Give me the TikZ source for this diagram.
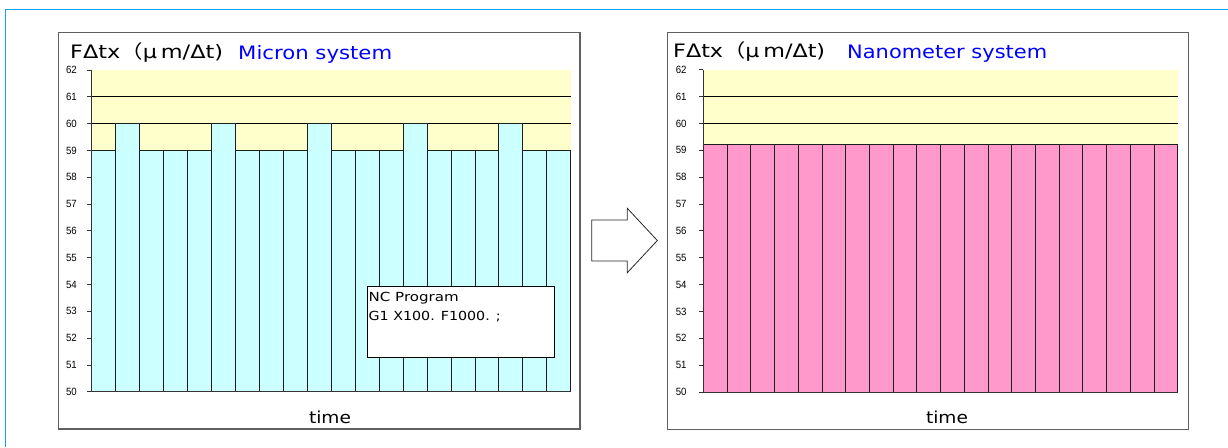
\documentclass[tikz,border=0pt]{standalone}
\usepackage{fontspec}
\usepackage{graphicx}
\setmainfont{DejaVu Sans}
\newfontfamily\labfont{Liberation Sans}
\newfontfamily\jpfont{Noto Sans CJK JP}

% set a text at its natural height, stretched horizontally to a given width (pt)
\newsavebox\fitbox
\newcommand\fitw[2]{\sbox\fitbox{#2}\pgfmathsetmacro\fitk{#1/\the\wd\fitbox}\scalebox{\fitk}[1]{\usebox\fitbox}}

\definecolor{frameblue}{RGB}{20,160,240}
\definecolor{boxgrey}{RGB}{96,96,96}
\definecolor{plotyellow}{RGB}{255,255,204}
\definecolor{barcyan}{RGB}{204,255,255}
\definecolor{barpink}{RGB}{255,153,204}
\definecolor{barline}{RGB}{30,30,30}
\definecolor{titleblue}{RGB}{0,0,255}

\tikzset{
  chartbox/.style={draw=boxgrey, line width=1.4pt, fill=white, inner sep=0pt, anchor=north west},
  gridline/.style={draw=black, line width=0.9pt},
  axisline/.style={draw=black!80, line width=0.9pt},
  bar/.style={draw=barline, line width=0.8pt},
  ticklab/.style={anchor=east, inner sep=0pt, font=\labfont\fontsize{10.5}{10.5}\selectfont},
  titletext/.style={anchor=base west, inner sep=0pt, font=\fontsize{18.5}{20}\selectfont},
  plaintext/.style={anchor=base west, inner sep=0pt},
  ncbox/.style={draw=black, line width=0.9pt, fill=white, inner sep=0pt, anchor=north west},
  arrowshape/.style={draw=black!85, line width=0.8pt, fill=white, line join=miter},
}

% background and grid of one plot (inside a scope in data units)
\newcommand\plotframe{%
  \fill[plotyellow] (0,0) rectangle (20,12);
  \foreach \k in {1,...,11} \draw[gridline] (0,\k) -- (20,\k);
}
% axes, ticks and tick labels; the argument is the label offset from the axis
\newcommand\plotaxes[1]{%
  \draw[axisline] (0,12) -- (0,0) -- (20,0);
  \foreach \k in {0,...,12} {
    \pgfmathtruncatemacro\lv{50+\k}
    \draw[axisline] (0,\k) -- ++(-4.5pt,0pt);
    \node[ticklab] at ([xshift=-#1]0,\k) {\scalebox{0.92}[1]{\lv}};
  }
}

\begin{document}
\begin{tikzpicture}[x=1pt,y=-1pt]
\useasboundingbox (0,0) rectangle (1228,447);

% outer frame, as two thin blue bands
\fill[frameblue] (4.6,8.6) rectangle (1228,10.4);
\fill[frameblue] (4.6,8.6) rectangle (6.4,447);

% chart boxes
\node[chartbox, minimum width=521.3pt, minimum height=396.3pt] (micron) at (58,32) {};
\node[chartbox, minimum width=520.7pt, minimum height=397pt] (nano) at (667,32) {};

% ---------- micron system ----------
\begin{scope}[shift={(91.7,391.8)}, x=23.95pt, y=26.82pt]
  \plotframe
  \foreach \v [count=\i from 0] in {59,60,59,59,59,60,59,59,59,60,59,59,59,60,59,59,59,60,59,59}
    \filldraw[bar, fill=barcyan] (\i,0) rectangle (\i+1,\v-50);
  \plotaxes{14.7pt}
\end{scope}

\node[titletext] (ttlA) at (70,58) {\fitw{153}{FΔtx{\jpfont （}μ\,m/Δt)}};
\node[titletext, text=titleblue] (sysA) at (238,59) {\fitw{154}{Micron system}};
\node[anchor=base, inner sep=0pt, font=\fontsize{16.5}{18}\selectfont] (timeA) at (330,423) {\fitw{42}{time}};

% NC program note
\node[ncbox, minimum width=187.6pt, minimum height=71pt] (nc) at (366.7,285.7) {};
\node[plaintext, font=\fontsize{12.5}{14}\selectfont] (ncA) at (368.5,301.7) {\fitw{90}{NC Program}};
\node[plaintext, font=\fontsize{12.5}{14}\selectfont] (ncB) at (368.5,320) {\fitw{132}{G1 X100. F1000. ;}};

% ---------- nanometer system ----------
\begin{scope}[shift={(703.3,392)}, x=23.72pt, y=26.85pt]
  \plotframe
  \foreach \i in {0,...,19}
    \filldraw[bar, fill=barpink] (\i,0) rectangle (\i+1,9.24);
  \plotaxes{16.6pt}
\end{scope}

\node[titletext] (ttlB) at (673,57) {\fitw{152}{FΔtx{\jpfont （}μ\,m/Δt)}};
\node[titletext, text=titleblue] (sysB) at (847,58) {\fitw{200}{Nanometer system}};
\node[anchor=base, inner sep=0pt, font=\fontsize{16.5}{18}\selectfont] (timeB) at (947,423) {\fitw{42}{time}};

% block arrow between the charts
\draw[arrowshape] (591.7,220) -- (627.3,220) -- (627.3,208.3) -- (657.3,240.5)
  -- (627.3,272.7) -- (627.3,261) -- (591.7,261) -- cycle;
\end{tikzpicture}
\end{document}
